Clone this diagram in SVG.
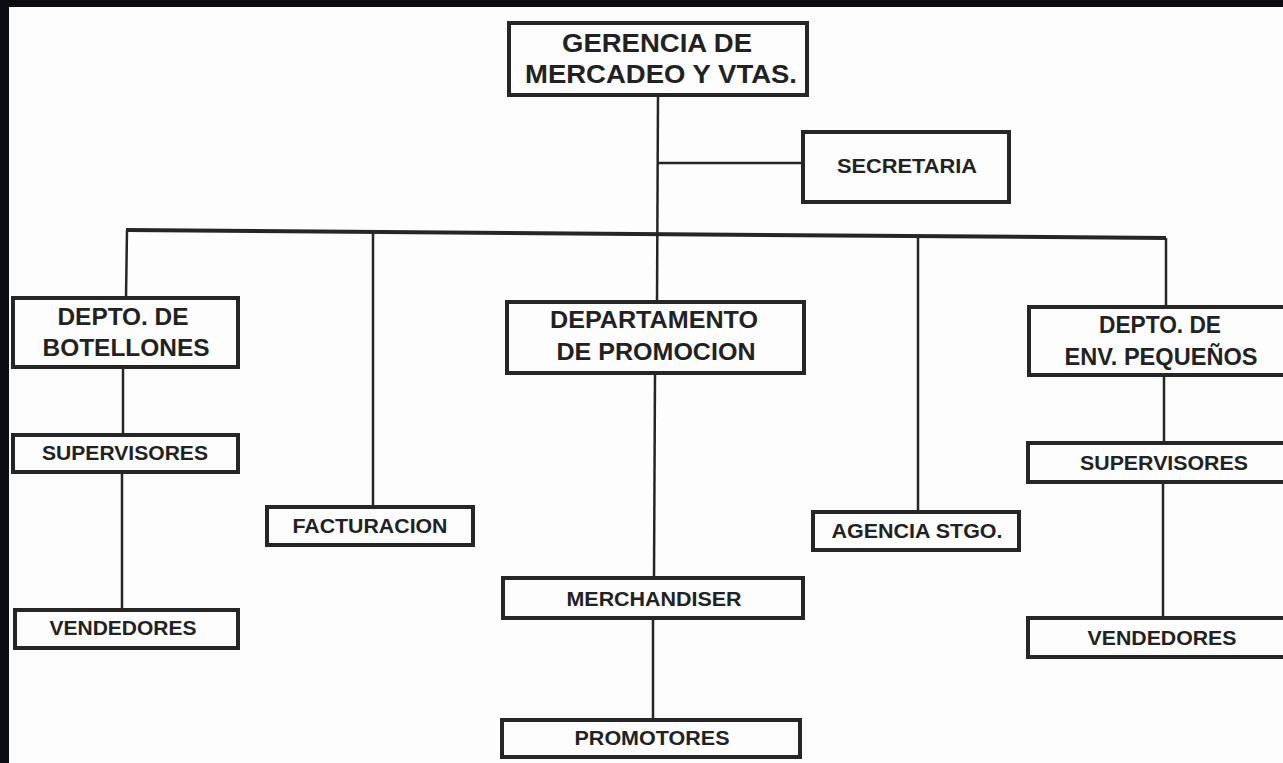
<svg xmlns="http://www.w3.org/2000/svg" width="1283" height="763" viewBox="0 0 1283 763">
<style>
.box{fill:#fdfdfd;stroke:#262626;stroke-width:4}
.t{font-family:"Liberation Sans",Arial,sans-serif;font-weight:bold;fill:#222;text-anchor:middle}
.big{font-size:26px}
.mid{font-size:23.5px}
.sm{font-size:21px}
.conn{stroke:#262626;stroke-width:2.5;fill:none}
.bus{stroke:#262626;stroke-width:4;fill:none}
</style>
<rect x="0" y="0" width="1283" height="763" fill="#0b0d13"/>
<rect x="9" y="7" width="1274" height="756" fill="#fdfdfd"/>
<g id="connectors">
<line class="bus" x1="126" y1="230" x2="1166" y2="238"/>
<line class="conn" x1="658" y1="95" x2="657" y2="303"/>
<line class="conn" x1="658" y1="163" x2="803" y2="163"/>
<line class="conn" x1="127" y1="230" x2="126" y2="298"/>
<line class="conn" x1="373" y1="232" x2="373" y2="507"/>
<line class="conn" x1="918" y1="236" x2="918" y2="512"/>
<line class="conn" x1="1166" y1="238" x2="1166" y2="307"/>
<line class="conn" x1="123" y1="367" x2="123" y2="435"/>
<line class="conn" x1="122" y1="472" x2="122" y2="610"/>
<line class="conn" x1="655" y1="373" x2="654" y2="578"/>
<line class="conn" x1="653" y1="618" x2="653" y2="720"/>
<line class="conn" x1="1164" y1="375" x2="1164" y2="443"/>
<line class="conn" x1="1163" y1="482" x2="1163" y2="618"/>
</g>
<g id="gerencia">
<rect class="box" x="509" y="23" width="298" height="72"/>
<text class="t big" x="657" y="52" textLength="190" lengthAdjust="spacingAndGlyphs">GERENCIA DE</text>
<text class="t big" x="661" y="83" textLength="272" lengthAdjust="spacingAndGlyphs">MERCADEO Y VTAS.</text>
</g>
<g id="secretaria">
<rect class="box" x="803" y="132" width="206" height="70"/>
<text class="t sm" x="907" y="173" textLength="140" lengthAdjust="spacingAndGlyphs">SECRETARIA</text>
</g>
<g id="depto-botellones">
<rect class="box" x="13" y="298" width="225" height="69"/>
<text class="t mid" x="123" y="325" textLength="131" lengthAdjust="spacingAndGlyphs">DEPTO. DE</text>
<text class="t mid" x="126" y="356" textLength="167" lengthAdjust="spacingAndGlyphs">BOTELLONES</text>
</g>
<g id="depto-promocion">
<rect class="box" x="507" y="302" width="297" height="71"/>
<text class="t mid" x="654" y="328" textLength="208" lengthAdjust="spacingAndGlyphs">DEPARTAMENTO</text>
<text class="t mid" x="656" y="360" textLength="199" lengthAdjust="spacingAndGlyphs">DE PROMOCION</text>
</g>
<g id="depto-env">
<rect class="box" x="1029" y="307" width="280" height="68"/>
<text class="t mid" x="1160" y="333" textLength="122" lengthAdjust="spacingAndGlyphs">DEPTO. DE</text>
<text class="t mid" x="1161" y="365" textLength="193" lengthAdjust="spacingAndGlyphs">ENV. PEQUEÑOS</text>
</g>
<g id="supervisores-bot">
<rect class="box" x="13" y="435" width="225" height="37"/>
<text class="t sm" x="125" y="460" textLength="166" lengthAdjust="spacingAndGlyphs">SUPERVISORES</text>
</g>
<g id="vendedores-bot">
<rect class="box" x="15" y="610" width="223" height="38"/>
<text class="t sm" x="123" y="635" textLength="147" lengthAdjust="spacingAndGlyphs">VENDEDORES</text>
</g>
<g id="facturacion">
<rect class="box" x="267" y="507" width="206" height="38"/>
<text class="t sm" x="370" y="533" textLength="155" lengthAdjust="spacingAndGlyphs">FACTURACION</text>
</g>
<g id="agencia">
<rect class="box" x="813" y="512" width="206" height="38"/>
<text class="t sm" x="917" y="538" textLength="171" lengthAdjust="spacingAndGlyphs">AGENCIA STGO.</text>
</g>
<g id="merchandiser">
<rect class="box" x="503" y="578" width="300" height="40"/>
<text class="t sm" x="654" y="606" textLength="175" lengthAdjust="spacingAndGlyphs">MERCHANDISER</text>
</g>
<g id="promotores">
<rect class="box" x="502" y="720" width="298" height="37"/>
<text class="t sm" x="652" y="745" textLength="155" lengthAdjust="spacingAndGlyphs">PROMOTORES</text>
</g>
<g id="supervisores-env">
<rect class="box" x="1028" y="443" width="280" height="39"/>
<text class="t sm" x="1164" y="470" textLength="168" lengthAdjust="spacingAndGlyphs">SUPERVISORES</text>
</g>
<g id="vendedores-env">
<rect class="box" x="1028" y="618" width="280" height="39"/>
<text class="t sm" x="1162" y="645" textLength="149" lengthAdjust="spacingAndGlyphs">VENDEDORES</text>
</g>
</svg>
